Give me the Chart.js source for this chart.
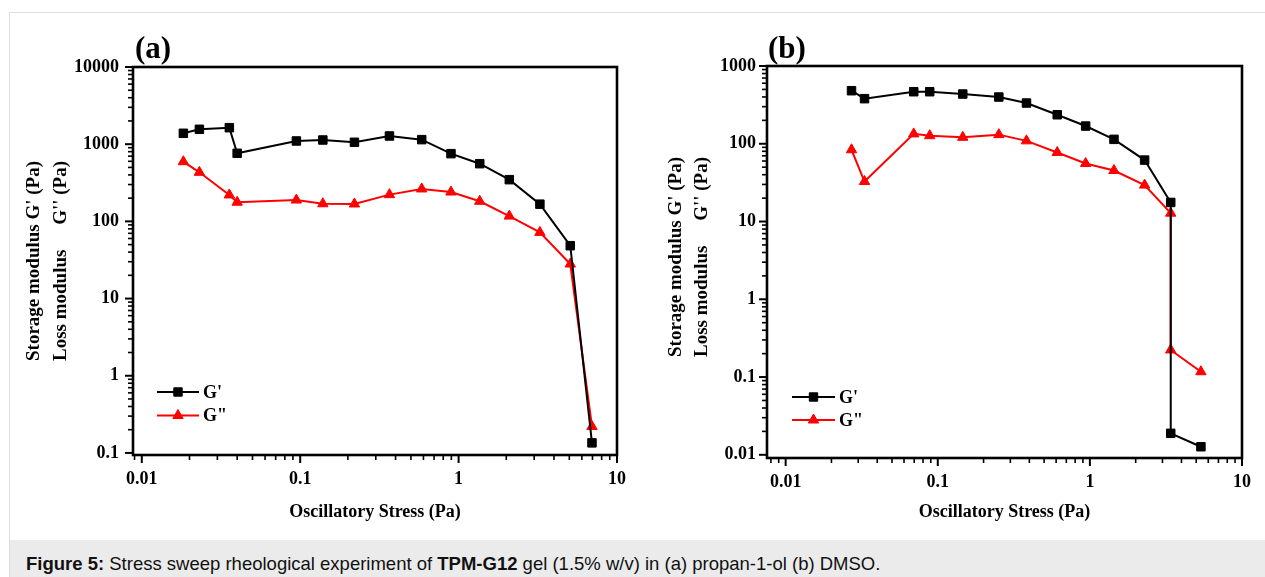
<!DOCTYPE html>
<html>
<head>
<meta charset="utf-8">
<script src="https://cdn.jsdelivr.net/npm/chart.js@4.4.1/dist/chart.umd.min.js"></script>
<style>
html,body{margin:0;padding:0;background:#fff;}
body{width:1265px;height:577px;position:relative;overflow:hidden;}
#box{position:absolute;left:9px;top:12px;width:1300px;height:529px;border:1px solid #dedede;box-sizing:border-box;}
#cap{position:absolute;left:9px;top:540px;width:1300px;height:40px;background:#ebebeb;border-left:1px solid #dedede;box-sizing:border-box;}
#cap p{margin:0;position:absolute;left:16px;top:15px;font-size:18.5px;line-height:18.5px;font-family:"Liberation Sans",Arial,sans-serif;color:#111;white-space:nowrap;}
canvas{position:absolute;top:0;}
#ca{left:0;}
#cb{left:640px;}
</style>
</head>
<body>
<div id="box"></div>
<div id="cap"><p><b>Figure 5:</b> Stress sweep rheological experiment of <b>TPM-G12</b> gel (1.5% w/v) in (a) propan-1-ol (b) DMSO.</p></div>
<canvas id="ca" width="640" height="540"></canvas>
<canvas id="cb" width="625" height="540"></canvas>
<script>
// ---- data ----
const stressA  = [0.0183, 0.0231, 0.0357, 0.040, 0.0946, 0.139, 0.220, 0.366, 0.585, 0.895, 1.36, 2.09, 3.26, 5.07, 6.95];
const gPrimeA  = [1384, 1560, 1636, 762, 1100, 1133, 1058, 1277, 1145, 754, 559, 347, 167, 48.4, 0.135];
const gDoubleA = [593, 432, 220, 177, 189, 169, 168, 222, 263, 240, 182, 117, 72, 28, 0.22];

const stressB  = [0.0271, 0.033, 0.0695, 0.0885, 0.146, 0.252, 0.383, 0.610, 0.938, 1.44, 2.29, 3.40, 3.40, 5.37];
const gPrimeB  = [481, 380, 467, 467, 436, 399, 334, 236, 169, 114, 61.7, 17.6, 0.0189, 0.0127];
const gDoubleB = [83.7, 32.7, 134, 127, 121, 131, 109, 77.3, 55.7, 45.3, 29.4, 12.8, 0.223, 0.117];

const xTickLabels  = ['0.01', '0.1', '1', '10'];
const yTickLabelsA = ['0.1', '1', '10', '100', '1000', '10000'];
const yTickLabelsB = ['0.01', '0.1', '1', '10', '100', '1000'];
const seriesNames  = ["G'", 'G"'];
const panelLabels  = ['(a)', '(b)'];
const xTitle = 'Oscillatory Stress (Pa)';
const yTitle1 = "Storage modulus G' (Pa)";
const yTitle2a = 'Loss modulus';
const yTitle2b = "G'' (Pa)";

const SERIF = '"Liberation Serif", "Times New Roman", serif';

function drawMarker(ctx, style, x, y, color) {
  ctx.fillStyle = color; ctx.strokeStyle = color; ctx.lineWidth = 1;
  ctx.beginPath();
  if (style === 'rect') {
    ctx.rect(x - 4.2, y - 4.2, 8.4, 8.4);
  } else {
    const r = 6;
    ctx.moveTo(x, y - r);
    ctx.lineTo(x + r * Math.sin(Math.PI / 3), y + r * 0.5);
    ctx.lineTo(x - r * Math.sin(Math.PI / 3), y + r * 0.5);
    ctx.closePath();
  }
  ctx.fill(); ctx.stroke();
}

const decor = {
  id: 'decor',
  afterDraw(chart, args, o) {
    const { ctx, chartArea: a } = chart;
    const xs = chart.scales.x, ys = chart.scales.y;
    const logVals = (min, max) => {
      const out = [];
      for (let e = Math.floor(Math.log10(min)); e <= Math.ceil(Math.log10(max)); e++)
        for (let m = 1; m < 10; m++) {
          const v = m * Math.pow(10, e);
          if (v >= min * 0.9999 && v <= max * 1.0001) out.push([v, m === 1]);
        }
      return out;
    };
    ctx.save();
    ctx.strokeStyle = '#000';
    logVals(xs.min, xs.max).forEach(([v, maj]) => {
      const px = xs.getPixelForValue(v);
      ctx.lineWidth = maj ? 2 : 1.6;
      ctx.beginPath(); ctx.moveTo(px, a.bottom); ctx.lineTo(px, a.bottom + (maj ? 8 : 5)); ctx.stroke();
    });
    logVals(ys.min, ys.max).forEach(([v, maj]) => {
      const py = ys.getPixelForValue(v);
      ctx.lineWidth = maj ? 2 : 1.6;
      ctx.beginPath(); ctx.moveTo(a.left, py); ctx.lineTo(a.left - (maj ? 8 : 5), py); ctx.stroke();
    });
    ctx.lineWidth = 2.6;
    ctx.strokeRect(a.left, a.top, a.right - a.left, a.bottom - a.top);

    // panel label
    ctx.fillStyle = '#000';
    ctx.font = 'bold 31px ' + SERIF;
    ctx.textAlign = 'left'; ctx.textBaseline = 'alphabetic';
    ctx.fillText(o.label, o.labX, o.labY);

    // legend
    chart.data.datasets.forEach((ds, i) => {
      const y = o.legY[i];
      ctx.strokeStyle = ds.borderColor; ctx.lineWidth = 2;
      ctx.beginPath(); ctx.moveTo(o.legX0, y); ctx.lineTo(o.legX1, y); ctx.stroke();
      drawMarker(ctx, ds.pointStyle, (o.legX0 + o.legX1) / 2, y, ds.borderColor);
      ctx.fillStyle = '#000';
      ctx.font = 'bold 18px ' + SERIF;
      ctx.textAlign = 'left'; ctx.textBaseline = 'middle';
      ctx.fillText(ds.label, o.legTX, y + 1);
    });

    // y-axis titles (two rotated lines)
    ctx.font = 'bold 19px ' + SERIF;
    ctx.fillStyle = '#000';
    ctx.translate(o.tX1, o.tCY);
    ctx.rotate(-Math.PI / 2);
    const w1 = ctx.measureText(yTitle1).width;
    ctx.textBaseline = 'middle';
    ctx.textAlign = 'center'; ctx.fillText(yTitle1, 0, 0);
    ctx.textAlign = 'left'; ctx.fillText(yTitle2a, -w1 / 2, o.tX2 - o.tX1);
    ctx.textAlign = 'right'; ctx.fillText(yTitle2b, w1 / 2, o.tX2 - o.tX1);
    ctx.restore();
  }
};

function makeChart(id, cfg) {
  const xVals = xTickLabels.map(Number);
  const yVals = cfg.yLabels.map(Number);
  return new Chart(document.getElementById(id), {
    type: 'line',
    data: {
      datasets: [
        { label: seriesNames[0], data: cfg.x.map((v, i) => ({ x: v, y: cfg.g1[i] })),
          borderColor: '#000000', backgroundColor: '#000000', borderWidth: 2,
          pointStyle: 'rect', pointRadius: 6, pointBorderWidth: 1, tension: 0 },
        { label: seriesNames[1], data: cfg.x.map((v, i) => ({ x: v, y: cfg.g2[i] })),
          borderColor: '#ff0000', backgroundColor: '#ff0000', borderWidth: 2,
          pointStyle: 'triangle', pointRadius: 6, pointBorderWidth: 1, tension: 0 }
      ]
    },
    options: {
      responsive: false, animation: false, events: [],
      layout: { padding: { left: 0, top: cfg.top, right: cfg.padR, bottom: 0 } },
      plugins: {
        legend: { display: false }, tooltip: { enabled: false }, title: { display: false },
        decor: cfg.decor
      },
      scales: {
        x: {
          type: 'logarithmic', min: cfg.xmin, max: 10,
          afterFit: s => { s.height = cfg.xH; },
          afterBuildTicks: s => { s.ticks = xVals.map(v => ({ value: v })); },
          grid: { display: false, drawTicks: false }, border: { display: false },
          ticks: { autoSkip: false, maxRotation: 0, padding: 14, color: '#000',
                   font: { family: SERIF, weight: 'bold', size: 18 },
                   callback: (v, i) => xTickLabels[i] },
          title: { display: true, text: xTitle, color: '#000',
                   font: { family: SERIF, weight: 'bold', size: 18 }, padding: { top: 0, bottom: 17 } }
        },
        y: {
          type: 'logarithmic', min: cfg.ymin, max: cfg.ymax,
          afterFit: s => { s.width = cfg.yW; },
          afterBuildTicks: s => { s.ticks = yVals.map(v => ({ value: v })); },
          grid: { display: false, drawTicks: false }, border: { display: false },
          ticks: { autoSkip: false, padding: cfg.yPad, color: '#000',
                   font: { family: SERIF, weight: 'bold', size: 18 },
                   callback: (v, i) => cfg.yLabels[i] }
        }
      }
    },
    plugins: [decor]
  });
}

makeChart('ca', {
  x: stressA, g1: gPrimeA, g2: gDoubleA, yLabels: yTickLabelsA,
  xmin: 0.0088, ymin: 0.094, ymax: 10000, top: 67, padR: 23, xH: 85, yW: 133, yPad: 14,
  decor: { label: panelLabels[0], labX: 135, labY: 58, legY: [392, 415.5], legX0: 157, legX1: 199, legTX: 203,
           tX1: 34, tX2: 61, tCY: 261 }
});
makeChart('cb', {
  x: stressB, g1: gPrimeB, g2: gDoubleB, yLabels: yTickLabelsB,
  xmin: 0.00754, ymin: 0.0091, ymax: 1000, top: 66, padR: 15, xH: 82, yW: 127, yPad: 11,
  decor: { label: panelLabels[1], labX: 128, labY: 58, legY: [397, 420], legX0: 152, legX1: 195, legTX: 199,
           tX1: 36, tX2: 62, tCY: 257 }
});
</script>
</body>
</html>
